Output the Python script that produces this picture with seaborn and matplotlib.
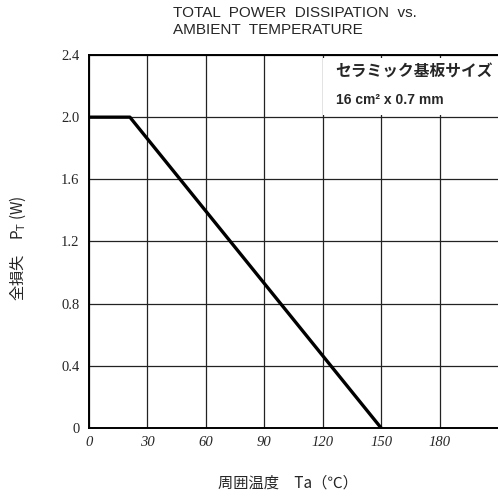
import matplotlib
matplotlib.use("Agg")
import matplotlib.pyplot as plt
import seaborn as sns
import pandas as pd
from matplotlib.patches import Rectangle

# Data
temp_c = [0, 21, 150]
power_w = [2.0, 2.0, 0.0]
x_ticks = [0, 30, 60, 90, 120, 150, 180]
y_ticks = [0, 0.4, 0.8, 1.2, 1.6, 2.0, 2.4]
y_tick_labels = ["0", "0.4", "0.8", "1.2", "1.6", "2.0", "2.4"]
title_text = "TOTAL  POWER  DISSIPATION  vs.\nAMBIENT  TEMPERATURE"
box_line1 = "セラミック基板サイズ"
box_line2 = "16 cm² x 0.7 mm"
xlabel_text = "周囲温度　Ta（℃）"
ylabel_text = "全損失　P$_\\mathrm{T}$ (W)"

sns.set_style("white")
plt.rcParams['font.family'] = ['Noto Sans CJK JP', 'DejaVu Sans']

df = pd.DataFrame({"Ta": temp_c, "PT": power_w})

fig = plt.figure(figsize=(4.98, 4.97), dpi=100)
ax = fig.add_axes([89/498, 1-428/497, 1-89/498, (428-55)/497])

ax.set_xlim(0, 210)
ax.set_ylim(0, 2.4)
ax.set_xticks(x_ticks)
ax.set_yticks(y_ticks)
ax.set_xticklabels([str(v) for v in x_ticks], family='Liberation Serif',
                   style='italic', fontsize=10.5)
ax.set_yticklabels(y_tick_labels, family='Liberation Serif', fontsize=10.5)
ax.tick_params(axis='both', length=0)
ax.tick_params(axis='x', pad=6)
ax.tick_params(axis='y', pad=7)
ax.grid(True, color='#222222', lw=0.9)
for s in ['left', 'bottom', 'top']:
    ax.spines[s].set_color('black')
    ax.spines[s].set_linewidth(1.4)
    ax.spines[s].set_zorder(6)
ax.spines['right'].set_visible(False)

sns.lineplot(data=df, x="Ta", y="PT", ax=ax, color='black', lw=2.4, zorder=4)
ax.set_xlabel("")
ax.set_ylabel("")

ax.add_patch(Rectangle((0.572, 0.84), 0.43, 0.152, transform=ax.transAxes,
                       facecolor='white', edgecolor='none', zorder=3,
                       clip_on=False))
ax.text(0.603, 0.955, box_line1, transform=ax.transAxes, fontsize=11.3,
        fontweight='bold', va='center', ha='left', zorder=5)
ax.text(0.603, 0.88, box_line2, transform=ax.transAxes, fontsize=10,
        fontweight='bold', va='center', ha='left', zorder=5,
        family=['Liberation Sans', 'DejaVu Sans'])

fig.text(173/498, 1-6/497, title_text, ha='left', va='top', fontsize=11,
         family=['Liberation Sans', 'DejaVu Sans'], linespacing=1.3)
fig.text(288/498, 1-483/497, xlabel_text, ha='center', va='center',
         fontsize=11)
fig.text(18/498, 1-248/497, ylabel_text, ha='center', va='center',
         fontsize=11, rotation=90)

fig.savefig("out.png", dpi=100)
